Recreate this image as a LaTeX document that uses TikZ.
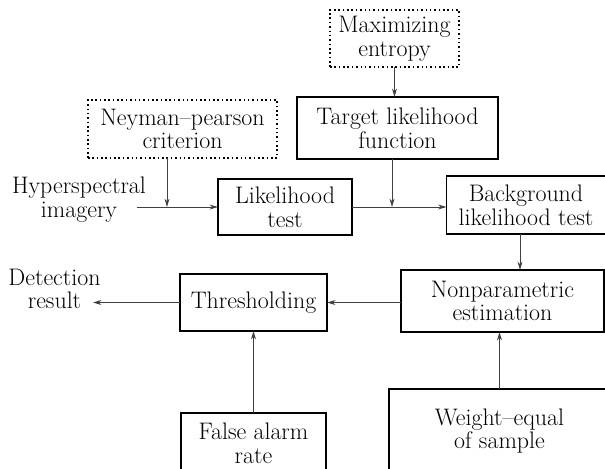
\documentclass[tikz,border=0pt]{standalone}
\usetikzlibrary{arrows.meta}
\tikzstyle{base}=[x=0.025cm, y=-0.025cm, inner sep=0pt, outer sep=0pt, font=\fontsize{17}{16.8}\selectfont]
\tikzstyle{block}=[draw, line width=0.9pt, align=center]
\tikzstyle{prior}=[draw, dotted, line width=1.1pt, align=center]
\tikzstyle{freetext}=[align=center]
\tikzstyle{flow}=[draw, black!75, line width=0.6pt, -{Stealth[length=6pt,width=3.5pt]}]

\begin{document}
\begin{tikzpicture}[base]
    \path [use as bounding box] (0,0) rectangle (605,468);
    \clip (0,0) rectangle (605,468);
        \node [prior, minimum width=3.225cm, minimum height=1.425cm] (maxent) at (394.5,38.5) {Maximizing\\entropy};
        \node [block, minimum width=5.025cm, minimum height=1.55cm] (target) at (397.5,128) {Target likelihood\\function};
        \node [prior, minimum width=4.725cm, minimum height=1.45cm] (neyman) at (182.5,129) {Neyman–pearson\\criterion};
        \node [block, minimum width=3.35cm, minimum height=1.4cm] (likeli) at (285,207) {Likelihood\\test};
        \node [block, minimum width=3.975cm, minimum height=1.45cm] (backgr) at (526,205) {Background\\likelihood test};
        \node [block, minimum width=5.075cm, minimum height=1.55cm] (nonpar) at (502.5,301) {Nonparametric\\estimation};
        \node [block, minimum width=3.675cm, minimum height=1.425cm] (thresh) at (253.5,302.5) {Thresholding};
        \node [block, minimum width=3.625cm, minimum height=1.5cm] (falarm) at (253.5,443) {False alarm\\rate};
        \node [block, minimum width=5.525cm, minimum height=2.1cm] (weight) at (499.5,431) {Weight–equal\\of sample};
        \node [freetext] (hyper) at (79,199.5) {Hyperspectral\\imagery};
        \node [freetext] (detect) at (54.5,289) {Detection\\result};
        \coordinate (hyperend) at (137,207);
        \coordinate (njoin) at (167,207);
        \coordinate (tjoin) at (392,207);
        \coordinate (detectend) at (93,302.5);
        \draw [flow] (maxent.south) -- (maxent.south |- target.north);
        \draw [flow] (hyperend) -- (likeli.west);
        \draw [flow] (neyman.south -| njoin) -- (njoin);
        \draw [flow] (likeli.east) -- (likeli.east -| backgr.west);
        \draw [flow] (target.south -| tjoin) -- (tjoin);
        \draw [flow] ([xshift=-0.15cm]backgr.south) -- ([xshift=-0.15cm]backgr.south |- nonpar.north);
        \draw [flow] (nonpar.west |- thresh) -- (thresh.east);
        \draw [flow] (thresh.west) -- (detectend);
        \draw [flow] (falarm.north) -- (thresh.south);
        \draw [flow] (weight.north) -- (weight.north |- nonpar.south);
    \end{tikzpicture}
\end{document}
